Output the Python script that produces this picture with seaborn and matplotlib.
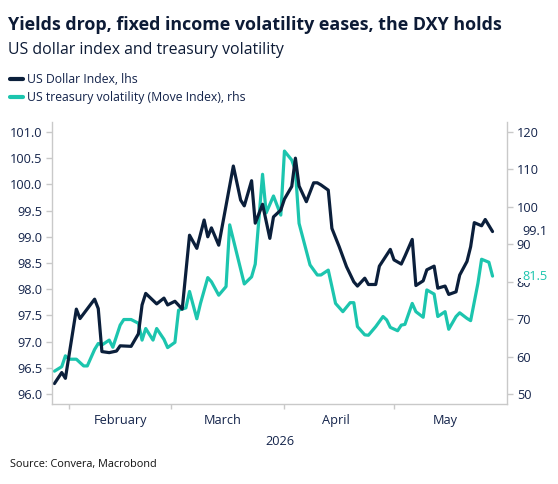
import matplotlib
matplotlib.use("Agg")
import matplotlib.pyplot as plt
import matplotlib.dates as mdates
import matplotlib.ticker as mticker
from matplotlib.lines import Line2D
import seaborn as sns
import pandas as pd

# ---------------- data ----------------
dxy_dates = [
    "2026-01-28", "2026-01-30", "2026-01-31", "2026-02-03", "2026-02-04", "2026-02-08",
    "2026-02-09", "2026-02-10", "2026-02-12", "2026-02-14", "2026-02-15", "2026-02-18",
    "2026-02-20", "2026-02-21", "2026-02-22", "2026-02-25", "2026-02-27", "2026-02-28",
    "2026-03-02", "2026-03-04", "2026-03-06", "2026-03-08", "2026-03-10", "2026-03-11",
    "2026-03-12", "2026-03-14", "2026-03-18", "2026-03-20", "2026-03-21", "2026-03-23",
    "2026-03-24", "2026-03-26", "2026-03-28", "2026-03-29", "2026-03-31", "2026-04-01",
    "2026-04-03", "2026-04-04", "2026-04-05", "2026-04-07", "2026-04-09", "2026-04-10",
    "2026-04-11", "2026-04-13", "2026-04-14", "2026-04-16", "2026-04-17", "2026-04-18",
    "2026-04-20", "2026-04-21", "2026-04-23", "2026-04-24", "2026-04-26", "2026-04-27",
    "2026-04-30", "2026-05-01", "2026-05-03", "2026-05-04", "2026-05-06", "2026-05-07",
    "2026-05-09", "2026-05-10", "2026-05-12", "2026-05-13", "2026-05-15", "2026-05-16",
    "2026-05-18", "2026-05-19", "2026-05-21", "2026-05-22", "2026-05-23", "2026-05-25",
    "2026-05-26", "2026-05-28",
]
dxy_values = [
    96.20, 96.41, 96.30, 97.62, 97.44, 97.81,
    97.63, 96.81, 96.79, 96.82, 96.92, 96.91,
    97.15, 97.70, 97.92, 97.72, 97.83, 97.70,
    97.77, 97.62, 99.03, 98.78, 99.32, 99.00,
    99.17, 98.84, 100.35, 99.70, 99.59, 100.07,
    99.26, 99.62, 98.97, 99.38, 99.51, 99.72,
    99.96, 100.50, 99.97, 99.67, 100.03, 100.03,
    99.99, 99.89, 99.16, 98.81, 98.62, 98.43,
    98.14, 98.06, 98.21, 98.09, 98.09, 98.44,
    98.76, 98.56, 98.48, 98.63, 98.95, 98.07,
    98.16, 98.37, 98.44, 98.02, 98.06, 97.90,
    97.95, 98.27, 98.53, 98.81, 99.27, 99.21,
    99.33, 99.10,
]

move_dates = [
    "2026-01-28", "2026-01-30", "2026-01-31", "2026-02-01", "2026-02-03", "2026-02-05",
    "2026-02-06", "2026-02-08", "2026-02-09", "2026-02-10", "2026-02-12", "2026-02-13",
    "2026-02-15", "2026-02-16", "2026-02-18", "2026-02-20", "2026-02-21", "2026-02-22",
    "2026-02-24", "2026-02-25", "2026-02-27", "2026-02-28", "2026-03-02", "2026-03-03",
    "2026-03-05", "2026-03-06", "2026-03-08", "2026-03-09", "2026-03-11", "2026-03-12",
    "2026-03-14", "2026-03-16", "2026-03-17", "2026-03-21", "2026-03-23", "2026-03-24",
    "2026-03-26", "2026-03-27", "2026-03-29", "2026-03-31", "2026-04-01", "2026-04-03",
    "2026-04-04", "2026-04-05", "2026-04-08", "2026-04-10", "2026-04-11", "2026-04-13",
    "2026-04-14", "2026-04-15", "2026-04-17", "2026-04-19", "2026-04-20", "2026-04-21",
    "2026-04-23", "2026-04-24", "2026-04-26", "2026-04-28", "2026-04-29", "2026-04-30",
    "2026-05-02", "2026-05-03", "2026-05-04", "2026-05-06", "2026-05-07", "2026-05-09",
    "2026-05-10", "2026-05-12", "2026-05-13", "2026-05-15", "2026-05-16", "2026-05-18",
    "2026-05-19", "2026-05-21", "2026-05-22", "2026-05-24", "2026-05-25", "2026-05-27",
    "2026-05-28",
]
move_values = [
    56.1, 57.3, 60.2, 59.3, 59.3, 57.5,
    57.5, 61.9, 63.5, 63.1, 64.4, 62.5,
    68.4, 69.9, 69.9, 68.9, 64.4, 67.5,
    64.4, 67.5, 64.6, 62.4, 63.8, 72.4,
    73.0, 77.4, 70.1, 74.2, 81.1, 80.0,
    76.4, 78.7, 95.2, 79.4, 81.3, 84.7,
    108.7, 98.4, 102.9, 97.8, 114.9, 112.5,
    109.8, 95.6, 84.5, 81.8, 81.8, 83.1,
    78.7, 74.2, 72.0, 74.4, 74.4, 68.0,
    65.8, 65.7, 68.0, 70.7, 69.8, 67.8,
    66.9, 68.4, 68.6, 74.2, 72.0, 70.5,
    77.8, 76.7, 70.7, 72.0, 67.3, 70.7,
    71.7, 70.2, 69.6, 79.6, 86.0, 85.2,
    81.5,
]

title = "Yields drop, fixed income volatility eases, the DXY holds"
subtitle = "US dollar index and treasury volatility"
legend_labels = ["US Dollar Index, lhs", "US treasury volatility (Move Index), rhs"]
left_ticks = [96.0, 96.5, 97.0, 97.5, 98.0, 98.5, 99.0, 99.5, 100.0, 100.5, 101.0]
right_ticks = [50, 60, 70, 80, 90, 100, 110, 120]
x_label = "2026"
source = "Source: Convera, Macrobond"

# ---------------- style ----------------
NAVY = "#0b1f3b"
TEAL = "#1cc5ae"
TEXT = "#13234a"
SPINE = "#c9c9c9"

sns.set_theme(style="white")
plt.rcParams["font.family"] = ["Open Sans", "DejaVu Sans"]

dxy = pd.DataFrame({"date": pd.to_datetime(dxy_dates), "value": dxy_values})
move = pd.DataFrame({"date": pd.to_datetime(move_dates), "value": move_values})

fig = plt.figure(figsize=(5.58, 4.84), dpi=100)
ax = fig.add_axes([52 / 558, 1 - 404 / 484, 455 / 558, 282 / 484])
ax2 = ax.twinx()

sns.lineplot(data=move, x="date", y="value", ax=ax2, color=TEAL, linewidth=2.3)
sns.lineplot(data=dxy, x="date", y="value", ax=ax, color=NAVY, linewidth=2.3)
ax.set_zorder(ax2.get_zorder() + 1)
ax.patch.set_visible(False)

x0 = pd.Timestamp("2026-02-01") - pd.Timedelta(days=4.67)
x1 = pd.Timestamp("2026-05-01") + pd.Timedelta(days=30.96)
ax.set_xlim(x0, x1)
ax.set_ylim(95.81, 101.19)
ax2.set_ylim(47.33, 122.67)

ax.yaxis.set_major_locator(mticker.FixedLocator(left_ticks))
ax.yaxis.set_major_formatter(mticker.FormatStrFormatter("%.1f"))
ax2.yaxis.set_major_locator(mticker.FixedLocator(right_ticks))
ax2.yaxis.set_major_formatter(mticker.FormatStrFormatter("%d"))

ax.xaxis.set_minor_locator(mdates.MonthLocator())
ax.xaxis.set_major_locator(mdates.MonthLocator(bymonthday=15))
ax.xaxis.set_major_formatter(mdates.DateFormatter("%B"))

for a in (ax, ax2):
    for s in a.spines.values():
        s.set_color(SPINE)
        s.set_linewidth(1.0)
    a.spines["top"].set_visible(False)
ax.spines["right"].set_visible(False)
ax2.spines["left"].set_visible(False)
ax2.spines["bottom"].set_visible(False)

ax.tick_params(axis="y", which="major", length=4, width=1, color=SPINE,
               labelsize=9.2, labelcolor=TEXT, pad=3, left=True)
ax2.tick_params(axis="y", which="major", length=4, width=1, color=SPINE,
                labelsize=9.2, labelcolor=TEXT, pad=3, right=True)
ax.tick_params(axis="x", which="major", length=0, labelsize=9.2, labelcolor=TEXT, pad=7)
ax.tick_params(axis="x", which="minor", length=3.5, width=1, color=SPINE, bottom=True)

ax.set_xlabel(x_label, fontsize=9.2, color=TEXT, labelpad=6)
ax.set_ylabel("")
ax2.set_ylabel("")
ax.grid(False)
ax2.grid(False)

# end-value labels (they sit on top of the right-axis tick labels, as in the reference)
ax.text(1.033, dxy_values[-1], f"{dxy_values[-1]:.1f}", transform=ax.get_yaxis_transform(),
        ha="left", va="center", fontsize=9.2, color=TEXT, zorder=10,
        bbox=dict(facecolor="white", edgecolor="none", pad=0.5))
ax2.text(1.033, move_values[-1], f"{move_values[-1]:.1f}", transform=ax2.get_yaxis_transform(),
         ha="left", va="center", fontsize=9.2, color=TEAL, zorder=10,
         bbox=dict(facecolor="white", edgecolor="none", pad=0.5))

# titles
fig.text(8 / 558, 1 - 25 / 484, title, fontsize=12.9, fontweight="bold", color="#0d1b36",
         ha="left", va="center")
fig.text(8 / 558, 1 - 50 / 484, subtitle, fontsize=11.4, color="#0d1b36",
         ha="left", va="center")

handles = [Line2D([0], [0], color=NAVY, lw=3), Line2D([0], [0], color=TEAL, lw=3)]
fig.legend(handles, legend_labels, loc="upper left", bbox_to_anchor=(10 / 558, 1 - 73 / 484),
           frameon=False, handlelength=1.05, handletextpad=0.3, labelspacing=0.45,
           borderpad=0, borderaxespad=0, fontsize=8.8, labelcolor=TEXT)

fig.text(10 / 558, 1 - 465 / 484, source, fontsize=7.8, color="#111111", ha="left", va="center")

fig.savefig("out.png", dpi=100)
